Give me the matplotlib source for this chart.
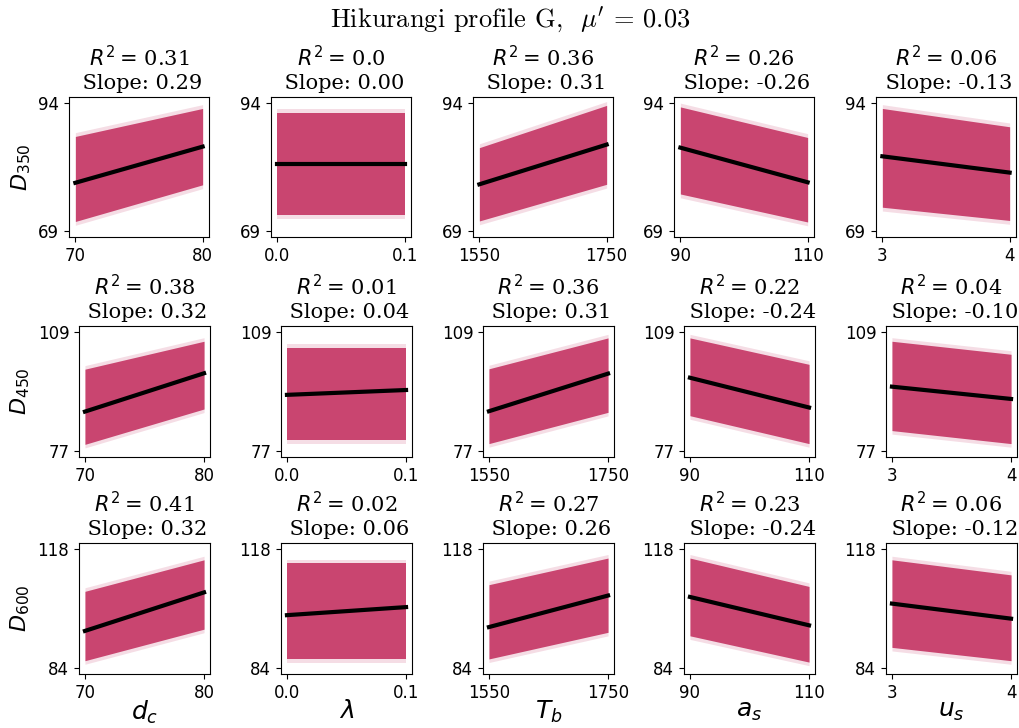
import matplotlib
matplotlib.use("Agg")
import matplotlib.pyplot as plt

# x parameters (columns)
x_labels = ['$d_c$', r'$\lambda$', '$T_b$', '$a_s$', '$u_s$']
x_ranges = [(70, 80), (0.0, 0.1), (1550, 1750), (90, 110), (3, 4)]
x_ticklabels = [['70', '80'], ['0.0', '0.1'], ['1550', '1750'], ['90', '110'], ['3', '4']]

# outputs (rows)
y_labels = ['$D_{350}$', '$D_{450}$', '$D_{600}$']
y_ranges = [(69, 94), (77, 109), (84, 118)]

r2_text = [['0.31', '0.0', '0.36', '0.26', '0.06'],
           ['0.38', '0.01', '0.36', '0.22', '0.04'],
           ['0.41', '0.02', '0.27', '0.23', '0.06']]
slope_text = [['0.29', '0.00', '0.31', '-0.26', '-0.13'],
              ['0.32', '0.04', '0.31', '-0.24', '-0.10'],
              ['0.32', '0.06', '0.26', '-0.24', '-0.12']]

# regression line value at x min / x max
fit_start = [[78.4, 82.0, 78.1, 85.3, 83.6],
             [87.6, 92.1, 87.7, 96.7, 94.3],
             [94.6, 99.1, 95.7, 104.3, 102.4]]
fit_end = [[85.5, 82.0, 85.9, 78.5, 80.4],
           [97.9, 93.4, 97.8, 88.7, 91.0],
           [105.6, 101.4, 104.7, 96.2, 98.1]]

# edges of the point cloud at x min / x max
low_start = [[70.8, 72.0, 70.9, 76.2, 73.6],
             [78.8, 79.9, 79.0, 86.5, 82.5],
             [86.1, 86.6, 86.6, 93.2, 89.9]]
low_end = [[78.0, 72.0, 78.1, 70.7, 71.0],
           [88.3, 79.9, 87.4, 79.0, 79.0],
           [95.1, 86.6, 94.2, 85.7, 86.1]]
high_start = [[87.5, 92.1, 85.3, 93.3, 93.0],
              [99.0, 104.7, 99.1, 107.4, 106.5],
              [105.9, 113.9, 107.8, 115.4, 114.9]]
high_end = [[93.0, 92.1, 93.6, 87.3, 89.4],
            [106.5, 104.7, 107.4, 100.3, 103.0],
            [114.9, 113.9, 115.4, 107.3, 110.6]]

cloud = '#c94570'

fig = plt.figure(figsize=(10.2, 7.28), dpi=100)
W, H = 1020, 728

row_top = [97, 326, 543]
row_size = [140, 131, 131]
row_lefts = [[69, 271, 473, 674, 876],
             [79, 281, 483, 684, 886],
             [79, 281, 483, 684, 886]]

for i in range(3):
    for j in range(5):
        s = row_size[i]
        ax = fig.add_axes([row_lefts[i][j] / W, 1 - (row_top[i] + s) / H, s / W, s / H])
        xr = x_ranges[j]
        y0, y1 = y_ranges[i]
        # pale fringe of sparse points around the dense cloud
        pad = 0.03 * (y1 - y0)
        ax.fill_between(xr, [low_start[i][j] - pad, low_end[i][j] - pad],
                        [high_start[i][j] + pad, high_end[i][j] + pad],
                        color=cloud, alpha=0.18, lw=0)
        ax.fill_between(xr, [low_start[i][j], low_end[i][j]],
                        [high_start[i][j], high_end[i][j]],
                        color=cloud, lw=0)
        ax.plot(xr, [fit_start[i][j], fit_end[i][j]], color='black', lw=3)
        ax.set_xlim(xr[0] - 0.05 * (xr[1] - xr[0]), xr[1] + 0.05 * (xr[1] - xr[0]))
        ax.set_ylim(y0 - 0.05 * (y1 - y0), y1 + 0.05 * (y1 - y0))
        ax.set_xticks(xr)
        ax.set_xticklabels(x_ticklabels[j])
        ax.set_yticks([y0, y1])
        ax.set_yticklabels([str(y0), str(y1)])
        ax.tick_params(labelsize=12)
        ax.set_title('$R^2 =\\,$' + r2_text[i][j] + '\n Slope: ' + slope_text[i][j],
                     family='DejaVu Serif', fontsize=15)
        if j == 0:
            ax.set_ylabel(y_labels[i], fontsize=16)
        if i == 2:
            ax.set_xlabel(x_labels[j], fontsize=18, labelpad=-2)

fig.suptitle("Hikurangi profile G,  $\\mu'$ = 0.03", family='cmr10',
             math_fontfamily='cm', fontsize=19, y=1 - 19 / H, va='center')

plt.savefig('out.png', dpi=100)
